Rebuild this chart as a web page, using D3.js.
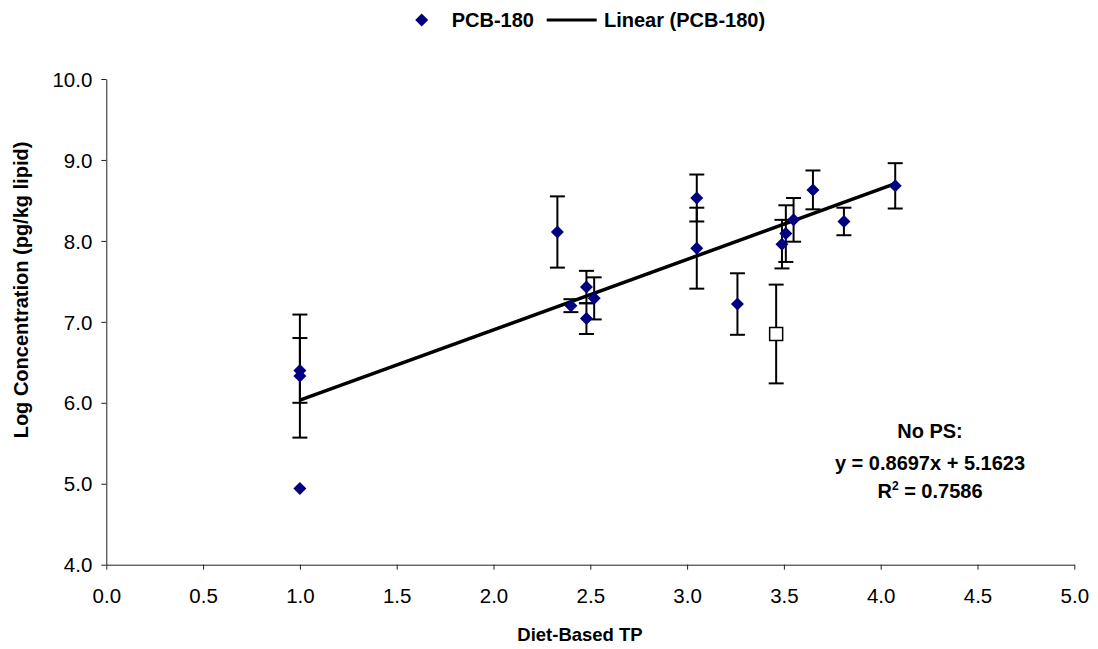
<!DOCTYPE html>
<html>
<head>
<meta charset="utf-8">
<script src="https://cdn.jsdelivr.net/npm/d3@7"></script>
<style>
  html, body { margin: 0; padding: 0; background: #fff; }
  svg { display: block; }
  text { font-family: "Liberation Sans", Arial, sans-serif; fill: #000; }
</style>
</head>
<body>
<svg id="chart" width="1098" height="649"></svg>
<script>
// ---- data ----
const seriesName = "PCB-180";
const trendName = "Linear (PCB-180)";
const tpValues   = [1.00, 1.00, 1.00, 2.33, 2.48, 2.48, 2.52, 2.40, 3.05, 3.05, 3.26, 3.49, 3.51, 3.55, 3.65, 3.81, 4.075];
const logConc    = [6.40, 6.33, 4.94, 8.11, 7.43, 7.04, 7.29, 7.20, 8.53, 7.91, 7.22, 7.96, 8.09, 8.26, 8.63, 8.24, 8.68];
const errValues  = [0.40, 0.76, null, 0.44, 0.20, 0.19, 0.26, 0.08, 0.29, 0.50, 0.38, 0.30, 0.35, 0.27, 0.24, 0.17, 0.28];
const psTP       = [3.46];
const psConc     = [6.85];
const psErr      = [0.61];
const slope = 0.8697, intercept = 5.1623, rSquared = 0.7586;
const xTicks = [0, 0.5, 1, 1.5, 2, 2.5, 3, 3.5, 4, 4.5, 5];
const yTicks = [4, 5, 6, 7, 8, 9, 10];
const xTitle = "Diet-Based TP";
const yTitle = "Log Concentration (pg/kg lipid)";
const noteLines = ["No PS:", "y = 0.8697x + 5.1623"];

(function () {
// ---- layout ----
const svg = d3.select("#chart");
const pLeft = 106.3, pRight = 1074.3, pTop = 79, pBottom = 564.7;
const x = d3.scaleLinear().domain([0, 5]).range([pLeft, pRight]);
const y = d3.scaleLinear().domain([4, 10]).range([pBottom, pTop]);
const navy = "#000080";
const fs = 20;

// axes
const xAxis = svg.append("g").attr("transform", `translate(0,${pBottom})`)
  .call(d3.axisBottom(x).tickValues(xTicks).tickFormat(d3.format(".1f")).tickSize(5).tickSizeOuter(0));
const yAxis = svg.append("g").attr("transform", `translate(${pLeft},0)`)
  .call(d3.axisLeft(y).tickValues(yTicks).tickFormat(d3.format(".1f")).tickSize(5).tickSizeOuter(0));
[xAxis, yAxis].forEach(g => {
  g.select(".domain").attr("stroke", "#222").attr("stroke-width", 1);
  g.selectAll(".tick line").attr("stroke", "#222").attr("stroke-width", 1);
  g.selectAll(".tick text").style("font-size", "20.5px")
    .style("font-family", '"Liberation Sans", Arial, sans-serif').attr("fill", "#000");
});
xAxis.selectAll(".tick text").attr("dy", null).attr("y", 38);
yAxis.selectAll(".tick text").attr("x", -14).attr("dy", "0.35em");

// axis titles
svg.append("text").attr("x", 580).attr("y", 641).attr("text-anchor", "middle")
  .style("font-size", "18.5px").style("font-weight", "bold").text(xTitle);
svg.append("text").attr("transform", "translate(28,290) rotate(-90)").attr("text-anchor", "middle")
  .style("font-size", "20px").style("font-weight", "bold").text(yTitle);

// trend line
const xr = d3.extent(tpValues);
svg.append("line")
  .attr("x1", x(xr[0])).attr("y1", y(slope * xr[0] + intercept))
  .attr("x2", x(xr[1])).attr("y2", y(slope * xr[1] + intercept))
  .attr("stroke", "#000").attr("stroke-width", 3.5);

// error bars
function errBars(xs, ys, es) {
  const g = svg.append("g").attr("stroke", "#000").attr("stroke-width", 2).attr("fill", "none");
  xs.forEach((xv, i) => {
    const e = es[i];
    if (e == null) return;
    const cx = x(xv), y1 = y(ys[i] + e), y2 = y(ys[i] - e);
    g.append("line").attr("x1", cx).attr("x2", cx).attr("y1", y1).attr("y2", y2);
    g.append("line").attr("x1", cx - 7.5).attr("x2", cx + 7.5).attr("y1", y1).attr("y2", y1);
    g.append("line").attr("x1", cx - 7.5).attr("x2", cx + 7.5).attr("y1", y2).attr("y2", y2);
  });
}
errBars(tpValues, logConc, errValues);
errBars(psTP, psConc, psErr);

// markers
const diamond = (cx, cy, r) => `M${cx},${cy - r}L${cx + r},${cy}L${cx},${cy + r}L${cx - r},${cy}Z`;
svg.append("g").selectAll("path").data(tpValues).join("path")
  .attr("d", (d, i) => diamond(x(d), y(logConc[i]), 6.5)).attr("fill", navy);
svg.append("g").selectAll("rect").data(psTP).join("rect")
  .attr("x", (d) => x(d) - 6.5).attr("y", (d, i) => y(psConc[i]) - 6.5)
  .attr("width", 13).attr("height", 13).attr("fill", "#fff").attr("stroke", "#000").attr("stroke-width", 1.5);

// legend
const lg = svg.append("g");
lg.append("path").attr("d", diamond(421.7, 20, 6.5)).attr("fill", navy);
lg.append("text").attr("x", 451.7).attr("y", 27).style("font-size", fs + "px").style("font-weight", "bold").text(seriesName);
lg.append("line").attr("x1", 546.7).attr("x2", 596.7).attr("y1", 20).attr("y2", 20).attr("stroke", "#000").attr("stroke-width", 3);
lg.append("text").attr("x", 604).attr("y", 27).style("font-size", fs + "px").style("font-weight", "bold").text(trendName);

// equation note
const ng = svg.append("g").style("font-size", fs + "px").style("font-weight", "bold").attr("text-anchor", "middle");
ng.append("text").attr("x", 930).attr("y", 438).text(noteLines[0]);
ng.append("text").attr("x", 930).attr("y", 470).text(noteLines[1]);
const r2 = ng.append("text").attr("x", 930).attr("y", 498);
r2.append("tspan").text("R");
r2.append("tspan").attr("dy", -8).style("font-size", "12px").text("2");
r2.append("tspan").attr("dy", 8).text(" = " + rSquared.toFixed(4));
})();
</script>
</body>
</html>
